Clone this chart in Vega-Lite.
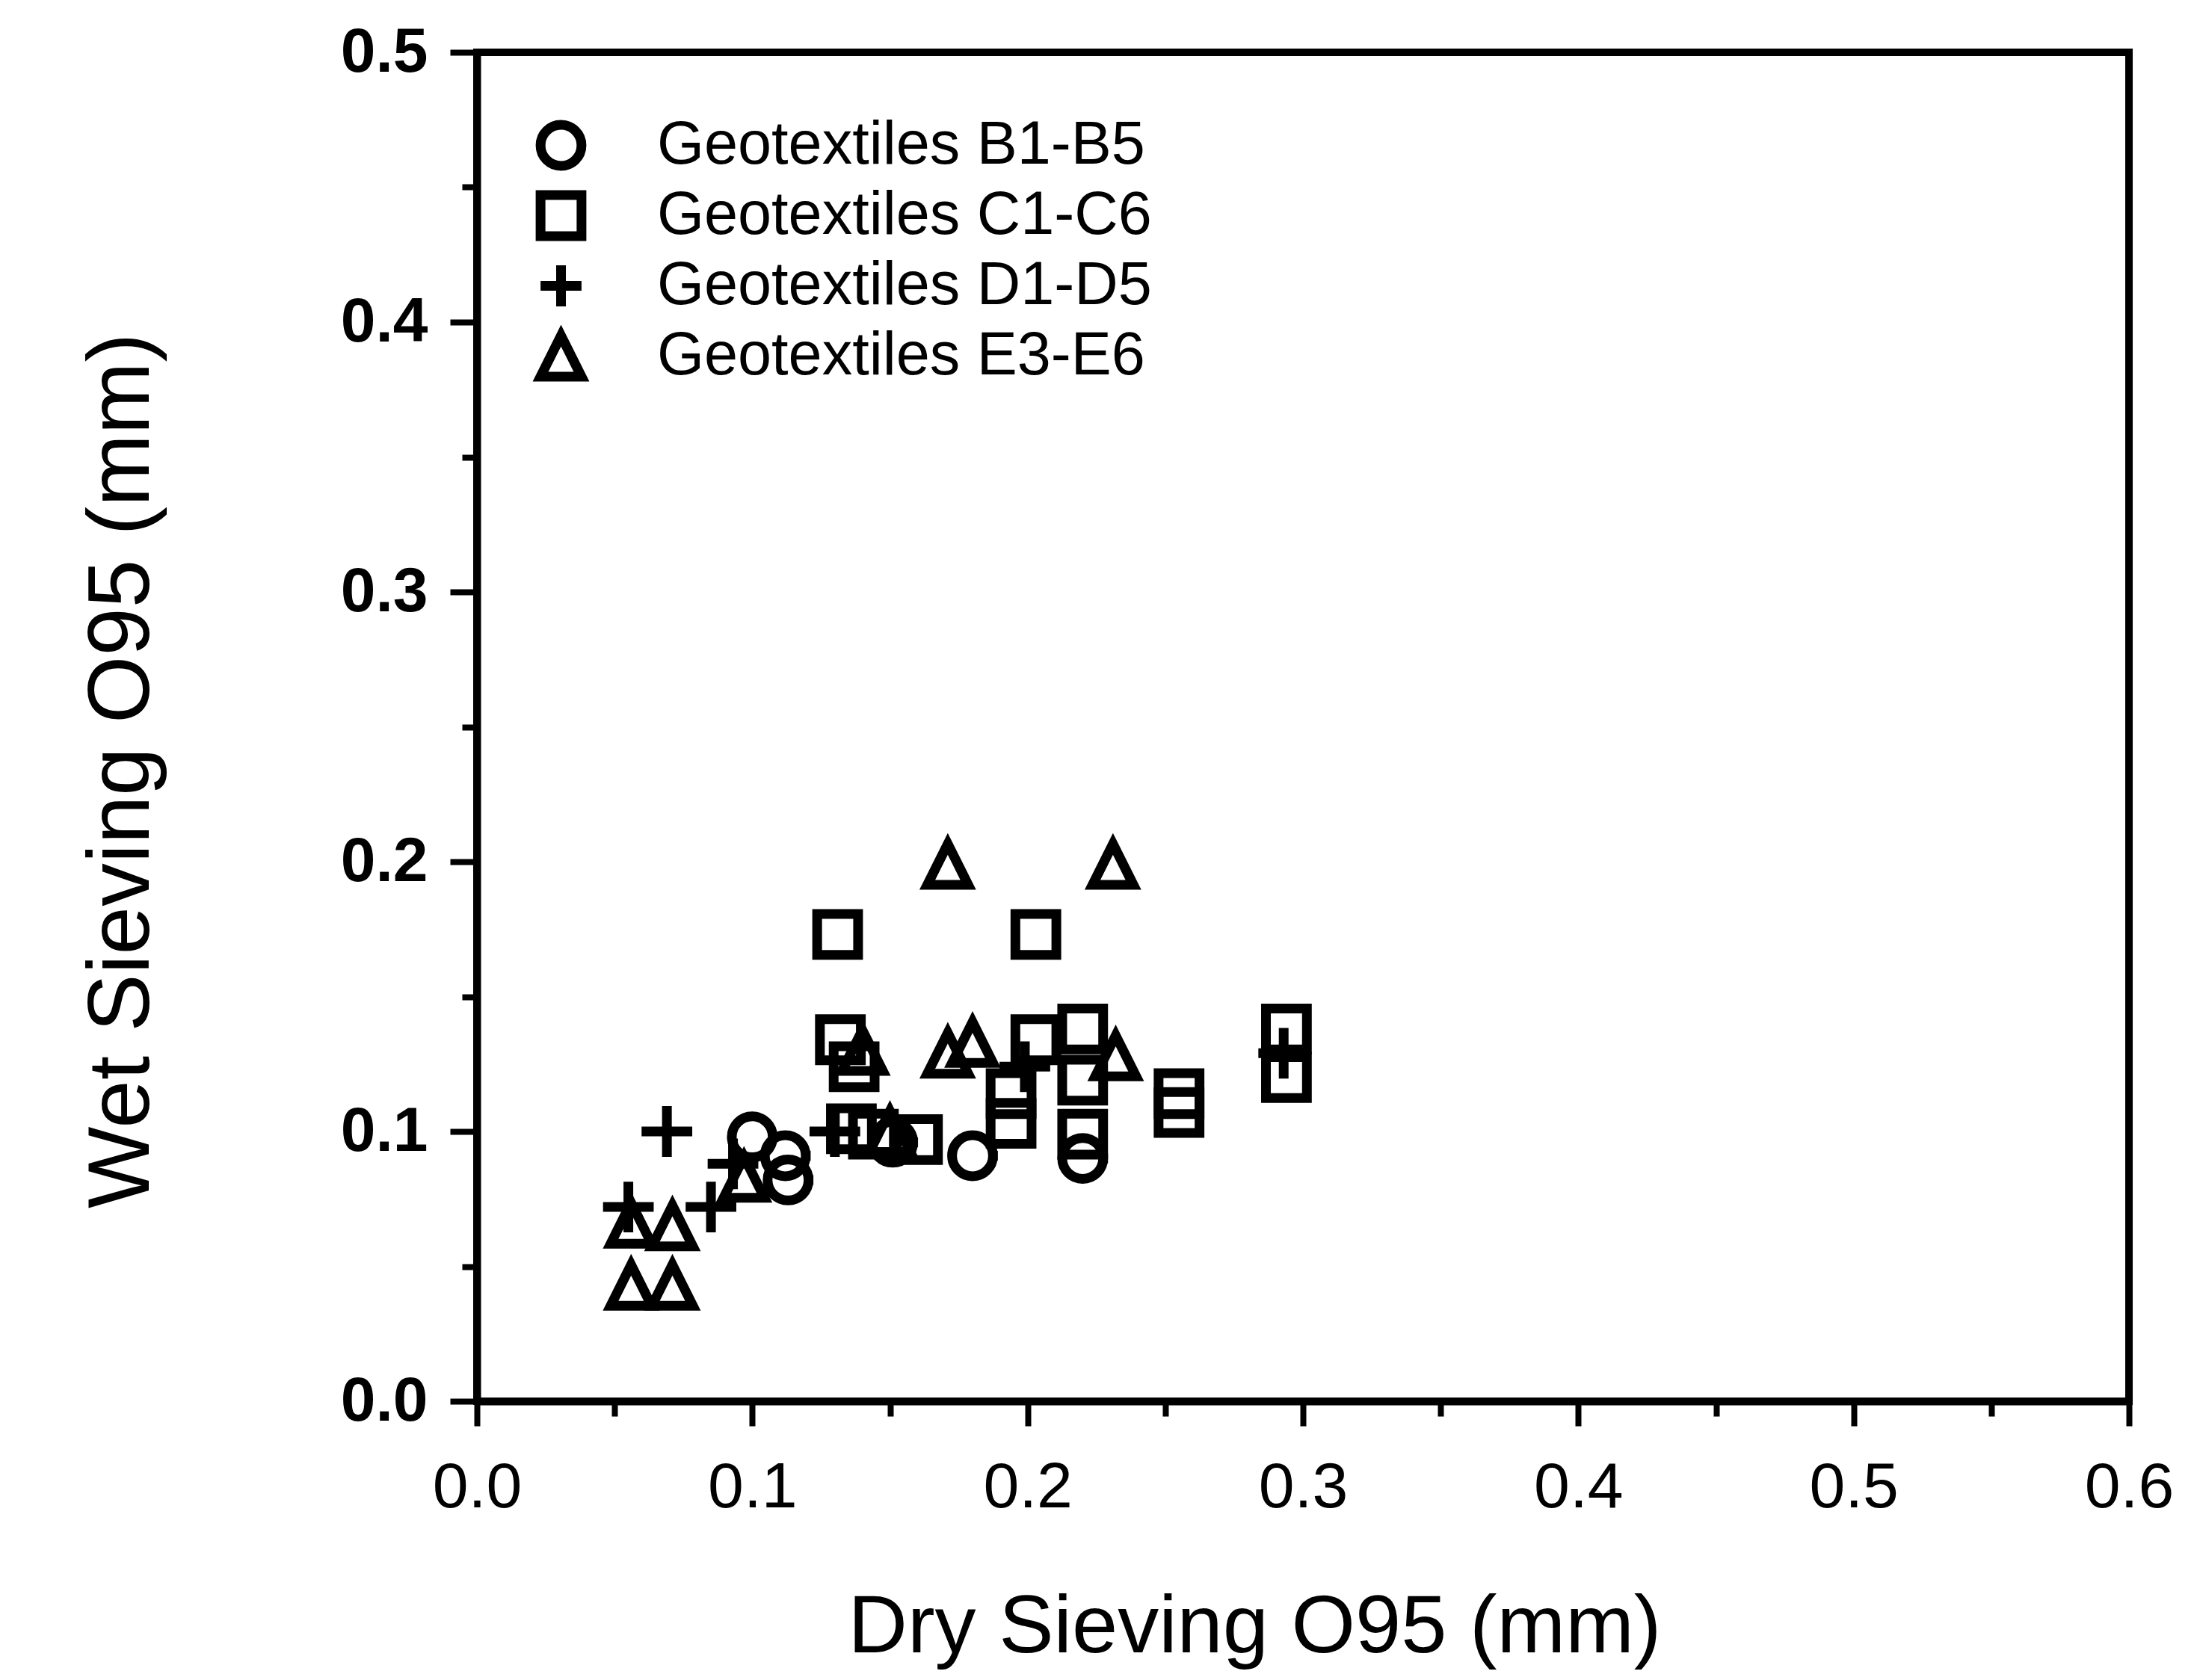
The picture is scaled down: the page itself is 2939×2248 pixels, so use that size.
{
  "$schema": "https://vega.github.io/schema/vega-lite/v6.json",
  "width": 2210,
  "height": 1805,
  "autosize": {"type": "none"},
  "padding": {"left": 638, "top": 70, "right": 91, "bottom": 373},
  "background": "white",
  "config": {
    "view": {"stroke": "black", "strokeWidth": 10},
    "axis": {"grid": false, "domainColor": "black", "domainWidth": 10, "tickColor": "black", "tickWidth": 8, "labelColor": "black", "titleColor": "black", "labelFlush": false, "labelOverlap": false}
  },
  "data": {
    "values": [
      {"group": "Geotextiles B1-B5", "dry": 0.100, "wet": 0.098},
      {"group": "Geotextiles B1-B5", "dry": 0.113, "wet": 0.082},
      {"group": "Geotextiles B1-B5", "dry": 0.112, "wet": 0.091},
      {"group": "Geotextiles B1-B5", "dry": 0.180, "wet": 0.091},
      {"group": "Geotextiles B1-B5", "dry": 0.220, "wet": 0.090},
      {"group": "Geotextiles B1-B5", "dry": 0.151, "wet": 0.096},
      {"group": "Geotextiles C1-C6", "dry": 0.131, "wet": 0.173},
      {"group": "Geotextiles C1-C6", "dry": 0.203, "wet": 0.173},
      {"group": "Geotextiles C1-C6", "dry": 0.132, "wet": 0.134},
      {"group": "Geotextiles C1-C6", "dry": 0.137, "wet": 0.124},
      {"group": "Geotextiles C1-C6", "dry": 0.203, "wet": 0.134},
      {"group": "Geotextiles C1-C6", "dry": 0.220, "wet": 0.138},
      {"group": "Geotextiles C1-C6", "dry": 0.220, "wet": 0.119},
      {"group": "Geotextiles C1-C6", "dry": 0.220, "wet": 0.099},
      {"group": "Geotextiles C1-C6", "dry": 0.194, "wet": 0.114},
      {"group": "Geotextiles C1-C6", "dry": 0.160, "wet": 0.097},
      {"group": "Geotextiles C1-C6", "dry": 0.255, "wet": 0.114},
      {"group": "Geotextiles C1-C6", "dry": 0.255, "wet": 0.107},
      {"group": "Geotextiles C1-C6", "dry": 0.294, "wet": 0.138},
      {"group": "Geotextiles C1-C6", "dry": 0.294, "wet": 0.120},
      {"group": "Geotextiles C1-C6", "dry": 0.136, "wet": 0.101},
      {"group": "Geotextiles C1-C6", "dry": 0.194, "wet": 0.103},
      {"group": "Geotextiles C1-C6", "dry": 0.144, "wet": 0.099},
      {"group": "Geotextiles D1-D5", "dry": 0.069, "wet": 0.100},
      {"group": "Geotextiles D1-D5", "dry": 0.055, "wet": 0.072},
      {"group": "Geotextiles D1-D5", "dry": 0.085, "wet": 0.072},
      {"group": "Geotextiles D1-D5", "dry": 0.093, "wet": 0.088},
      {"group": "Geotextiles D1-D5", "dry": 0.130, "wet": 0.100},
      {"group": "Geotextiles D1-D5", "dry": 0.293, "wet": 0.129},
      {"group": "Geotextiles D1-D5", "dry": 0.199, "wet": 0.124},
      {"group": "Geotextiles E3-E6", "dry": 0.171, "wet": 0.199},
      {"group": "Geotextiles E3-E6", "dry": 0.231, "wet": 0.199},
      {"group": "Geotextiles E3-E6", "dry": 0.140, "wet": 0.130},
      {"group": "Geotextiles E3-E6", "dry": 0.171, "wet": 0.129},
      {"group": "Geotextiles E3-E6", "dry": 0.180, "wet": 0.133},
      {"group": "Geotextiles E3-E6", "dry": 0.232, "wet": 0.128},
      {"group": "Geotextiles E3-E6", "dry": 0.056, "wet": 0.066},
      {"group": "Geotextiles E3-E6", "dry": 0.071, "wet": 0.065},
      {"group": "Geotextiles E3-E6", "dry": 0.056, "wet": 0.043},
      {"group": "Geotextiles E3-E6", "dry": 0.071, "wet": 0.043},
      {"group": "Geotextiles E3-E6", "dry": 0.097, "wet": 0.083},
      {"group": "Geotextiles E3-E6", "dry": 0.150, "wet": 0.100}
    ]
  },
  "mark": {"type": "point", "filled": false, "color": "black", "strokeWidth": 13, "size": 3000, "strokeCap": "square", "opacity": 1},
  "encoding": {
    "x": {
      "field": "dry", "type": "quantitative",
      "scale": {"domain": [0, 0.6], "nice": false, "zero": false},
      "axis": {
        "title": "Dry Sieving O95 (mm)",
        "values": [0, 0.05, 0.1, 0.15, 0.2, 0.25, 0.3, 0.35, 0.4, 0.45, 0.5, 0.55, 0.6],
        "labelExpr": "round(datum.value*100) % 10 === 0 ? format(datum.value, '.1f') : ''",
        "tickSize": {"condition": {"test": "round(datum.value*100) % 10 === 0", "value": 33}, "value": 20},
        "labelFont": "Liberation Sans", "labelFontSize": 86, "labelPadding": 40,
        "titleFont": "Liberation Sans", "titleFontSize": 110, "titleFontWeight": "normal",
        "titleX": 1040, "titleY": 335, "titleAlign": "center", "titleBaseline": "alphabetic"
      }
    },
    "y": {
      "field": "wet", "type": "quantitative",
      "scale": {"domain": [0, 0.5], "nice": false, "zero": false},
      "axis": {
        "title": "Wet Sieving O95 (mm)",
        "values": [0, 0.05, 0.1, 0.15, 0.2, 0.25, 0.3, 0.35, 0.4, 0.45, 0.5],
        "labelExpr": "round(datum.value*100) % 10 === 0 ? format(datum.value, '.1f') : ''",
        "tickSize": {"condition": {"test": "round(datum.value*100) % 10 === 0", "value": 36}, "value": 20},
        "labelFont": "Liberation Sans", "labelFontSize": 84, "labelFontWeight": "bold", "labelPadding": 30,
        "titleFont": "Liberation Sans", "titleFontSize": 116, "titleFontWeight": "normal",
        "titleX": -440, "titleY": 961, "titleAlign": "center", "titleBaseline": "alphabetic", "titleAngle": 270
      }
    },
    "shape": {
      "field": "group", "type": "nominal",
      "scale": {
        "domain": ["Geotextiles B1-B5", "Geotextiles C1-C6", "Geotextiles D1-D5", "Geotextiles E3-E6"],
        "range": ["circle", "square", "M-1,0L1,0M0,-1L0,1", "M0,-1L1,1L-1,1Z"]
      },
      "legend": {
        "title": null, "orient": "none", "legendX": 72, "legendY": 84, "padding": 0,
        "labelFont": "Liberation Sans", "labelFontSize": 81, "labelColor": "black",
        "labelLimit": 0, "labelOffset": 88, "rowPadding": -26,
        "symbolSize": 3000, "symbolStrokeWidth": 13, "symbolStrokeColor": "black", "symbolFillColor": "transparent", "symbolOpacity": 1
      }
    }
  }
}
